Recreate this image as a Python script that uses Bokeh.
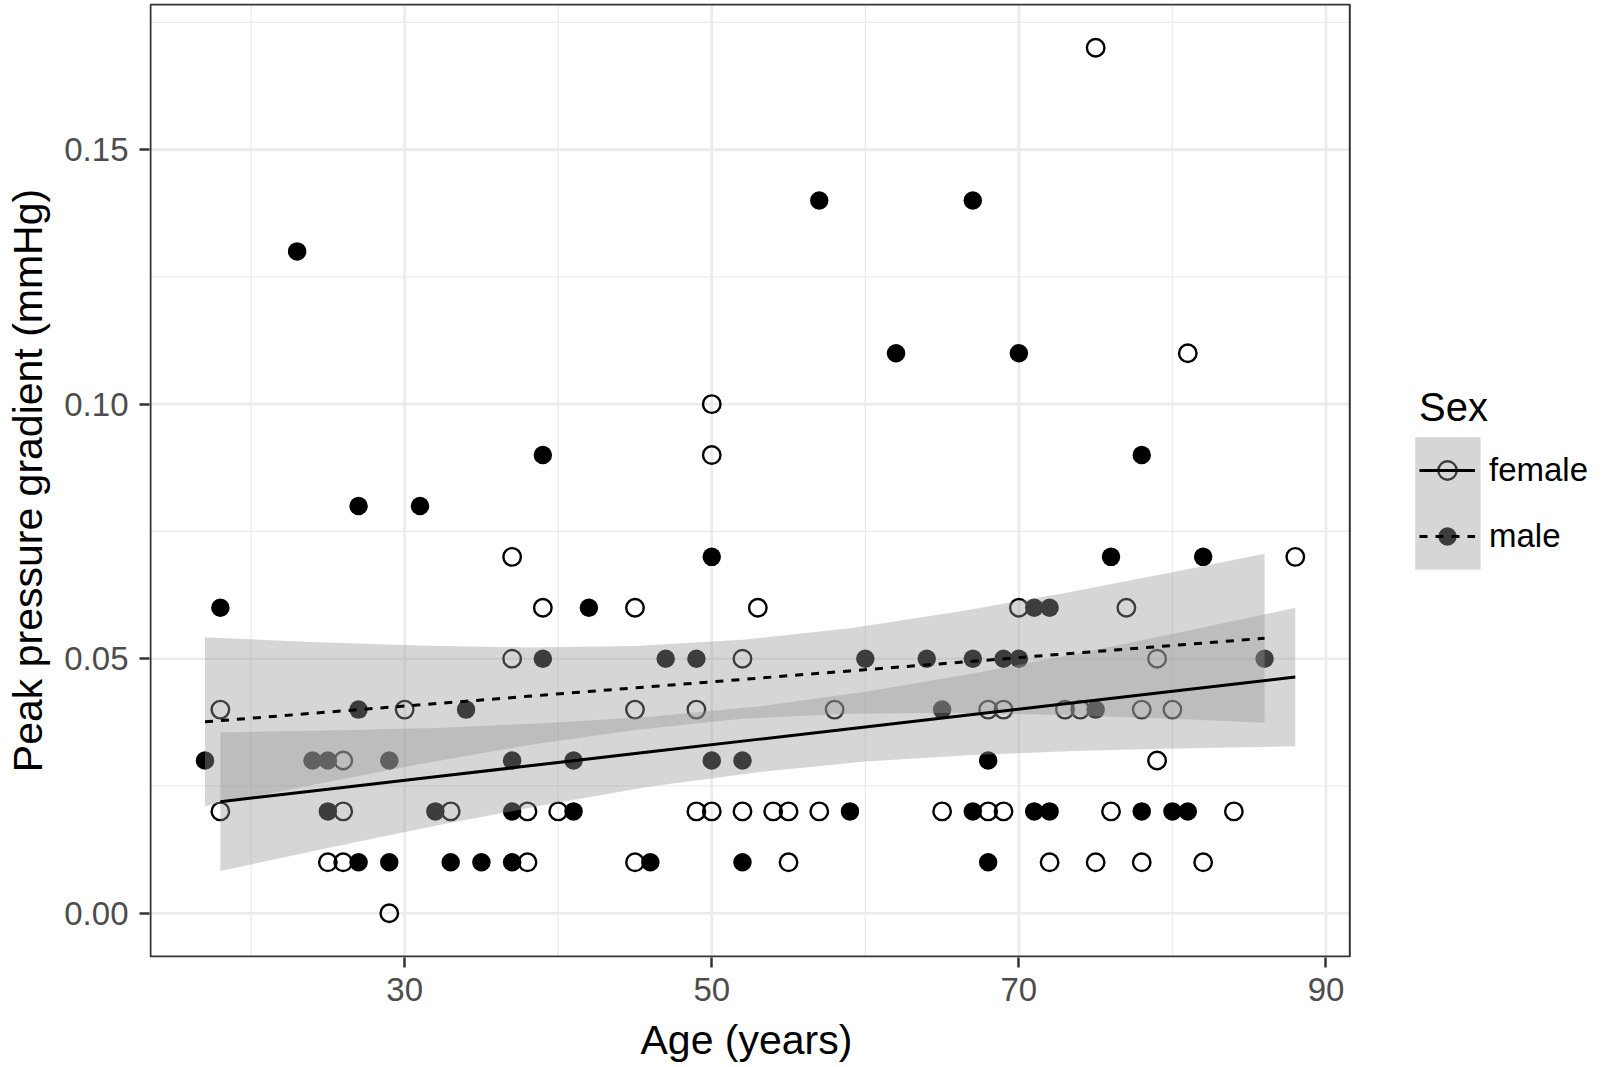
import numpy as np
from bokeh.plotting import figure
from bokeh.models import FixedTicker, NumeralTickFormatter, Legend, LegendItem, Range1d, Title
from bokeh.embed import file_html
from bokeh.resources import INLINE

# ---- data ----
female_age = [75, 81, 50, 50, 37, 88,
              39, 45, 53, 70, 77,
              37, 52, 79,
              18, 30, 45, 49, 58, 68, 69, 73, 74, 78, 80,
              26, 79,
              18, 26, 33, 38, 40, 49, 50, 52, 54, 55, 57, 65, 68, 69, 76, 84,
              25, 26, 38, 45, 55, 72, 75, 78, 82,
              29]
female_ppg = [0.17, 0.11, 0.10, 0.09, 0.07, 0.07,
              0.06, 0.06, 0.06, 0.06, 0.06,
              0.05, 0.05, 0.05,
              0.04, 0.04, 0.04, 0.04, 0.04, 0.04, 0.04, 0.04, 0.04, 0.04, 0.04,
              0.03, 0.03,
              0.02, 0.02, 0.02, 0.02, 0.02, 0.02, 0.02, 0.02, 0.02, 0.02, 0.02, 0.02, 0.02, 0.02, 0.02, 0.02,
              0.01, 0.01, 0.01, 0.01, 0.01, 0.01, 0.01, 0.01, 0.01,
              0.00]

male_age = [57, 67, 23, 62, 70, 39, 78, 27, 31, 50, 76, 82,
            18, 42, 71, 72,
            39, 47, 49, 60, 64, 67, 69, 70, 86,
            27, 34, 65, 75,
            17, 24, 25, 29, 37, 41, 50, 52, 68,
            25, 32, 37, 41, 59, 67, 71, 72, 78, 80, 81,
            27, 29, 33, 35, 37, 46, 52, 68]
male_ppg = [0.14, 0.14, 0.13, 0.11, 0.11, 0.09, 0.09, 0.08, 0.08, 0.07, 0.07, 0.07,
            0.06, 0.06, 0.06, 0.06,
            0.05, 0.05, 0.05, 0.05, 0.05, 0.05, 0.05, 0.05, 0.05,
            0.04, 0.04, 0.04, 0.04,
            0.03, 0.03, 0.03, 0.03, 0.03, 0.03, 0.03, 0.03, 0.03,
            0.02, 0.02, 0.02, 0.02, 0.02, 0.02, 0.02, 0.02, 0.02, 0.02, 0.02,
            0.01, 0.01, 0.01, 0.01, 0.01, 0.01, 0.01, 0.01]

# linear fits with 95% bands
female_fit_age = [18, 25, 32, 39, 46, 53, 60, 67, 74, 81, 88]
female_fit = [0.0219, 0.02435, 0.0268, 0.02925, 0.0317, 0.03415, 0.0366, 0.03905, 0.0415, 0.04395, 0.0464]
female_lo = [0.0083, 0.0128, 0.0172, 0.0212, 0.0249, 0.0277, 0.0298, 0.0311, 0.0319, 0.0324, 0.0328]
female_hi = [0.0355, 0.0359, 0.0364, 0.0373, 0.0386, 0.0406, 0.0435, 0.0471, 0.0511, 0.0555, 0.0600]

male_fit_age = [17, 24, 31, 38, 45, 52, 59, 66, 73, 80, 86]
male_fit = [0.0376, 0.03927, 0.04093, 0.0426, 0.04426, 0.04593, 0.0476, 0.04926, 0.05093, 0.0526, 0.05402]
male_lo = [0.0210, 0.0252, 0.0293, 0.0330, 0.0360, 0.0382, 0.0392, 0.0394, 0.0389, 0.0382, 0.0374]
male_hi = [0.0542, 0.0533, 0.0526, 0.0522, 0.0525, 0.0537, 0.0560, 0.0592, 0.0629, 0.0670, 0.0706]

x_major = [30, 50, 70, 90]
x_minor = [20, 40, 60, 80]
y_major = [0.0, 0.05, 0.10, 0.15]
y_minor = [0.025, 0.075, 0.125, 0.175]

# panel (ggplot-style expanded data range)
X_LO, X_HI = 13.45, 91.55
Y_LO, Y_HI = -0.0085, 0.1785

FONT = "Liberation Sans"

# layout: the frame reaches the right edge of the figure so the legend can sit in it
LEFT, TOP, FRAME_W, FRAME_H, BOTTOM = 149, 3, 1457, 954, 110
PANEL_W = 1199.3
PANEL_H = FRAME_H - 2
px_x = PANEL_W / (X_HI - X_LO)
px_y = PANEL_H / (Y_HI - Y_LO)
x_start = X_LO - 1 / px_x
y_start = Y_LO - 1 / px_y

def sx_to_x(sx):  # pixel offset from frame left -> data x
    return x_start + sx / px_x

def sy_to_y(sy):  # pixel offset from frame top -> data y
    return y_start + (FRAME_H - sy) / px_y

p = figure(frame_width=FRAME_W, frame_height=FRAME_H,
           min_border_left=LEFT, min_border_right=0, min_border_top=TOP, min_border_bottom=BOTTOM,
           x_range=Range1d(x_start, x_start + FRAME_W / px_x),
           y_range=Range1d(y_start, y_start + FRAME_H / px_y),
           output_backend="svg", toolbar_location=None,
           y_axis_label="Peak pressure gradient (mmHg)")

p.background_fill_color = "white"
p.border_fill_color = "white"
p.outline_line_color = None
p.xgrid.visible = False
p.ygrid.visible = False

p.xaxis.ticker = FixedTicker(ticks=x_major)
p.yaxis.ticker = FixedTicker(ticks=y_major)
p.yaxis.formatter = NumeralTickFormatter(format="0.00")

for ax in (p.xaxis, p.yaxis):
    ax.axis_line_color = None
    ax.major_tick_line_color = "#333333"
    ax.major_tick_line_width = 2.5
    ax.major_tick_out = 10
    ax.major_tick_in = 0
    ax.minor_tick_line_color = None
    ax.major_label_text_font = FONT
    ax.major_label_text_font_size = "33px"
    ax.major_label_text_color = "#4D4D4D"
    ax.axis_label_text_font = FONT
    ax.axis_label_text_font_size = "41px"
    ax.axis_label_text_font_style = "normal"
    ax.axis_label_text_color = "black"

p.yaxis.major_label_standoff = 11
p.yaxis.axis_label_standoff = 10
p.xaxis.major_label_standoff = 10
# a blank, tiny axis label only adds the gap between tick labels and the title below
p.xaxis.axis_label = " "
p.xaxis.axis_label_text_font_size = "1px"
p.xaxis.axis_label_standoff = 9

# x axis title, centred under the panel (not under the wider frame)
x_title = Title(text="Age (years)", align="left", offset=491, vertical_align="top", standoff=0,
                text_font=FONT, text_font_size="41px", text_font_style="normal", text_color="black")
p.add_layout(x_title, "below")

# grid lines inside the panel only
GRID = "#EBEBEB"
p.segment(x0=x_minor, x1=x_minor, y0=[Y_LO] * len(x_minor), y1=[Y_HI] * len(x_minor),
          line_color=GRID, line_width=1.3)
p.segment(x0=[X_LO] * len(y_minor), x1=[X_HI] * len(y_minor), y0=y_minor, y1=y_minor,
          line_color=GRID, line_width=1.3)
p.segment(x0=x_major, x1=x_major, y0=[Y_LO] * len(x_major), y1=[Y_HI] * len(x_major),
          line_color=GRID, line_width=2.6)
p.segment(x0=[X_LO] * len(y_major), x1=[X_HI] * len(y_major), y0=y_major, y1=y_major,
          line_color=GRID, line_width=2.6)

# points
p.scatter(female_age, female_ppg, marker="circle", size=17.5,
          fill_color=None, line_color="black", line_width=2.4)
p.scatter(male_age, male_ppg, marker="circle", size=18.5,
          fill_color="black", line_color=None)

# confidence bands
BAND = "#999999"
p.varea(x=male_fit_age, y1=male_lo, y2=male_hi, fill_color=BAND, fill_alpha=0.4)
p.varea(x=female_fit_age, y1=female_lo, y2=female_hi, fill_color=BAND, fill_alpha=0.4)

# fit lines
f_line = p.line(female_fit_age, female_fit, line_color="black", line_width=3)
m_line = p.line(male_fit_age, male_fit, line_color="black", line_width=3, line_dash="8 8")

# panel border
p.quad(left=[X_LO], right=[X_HI], bottom=[Y_LO], top=[Y_HI],
       fill_color=None, line_color="#333333", line_width=2)

# legend key background (grey band fill), pixel box relative to the frame
KEY_L, KEY_R, KEY_T, KEY_B = 1265.7, 1331.0, 433.7, 566.3
p.quad(left=[sx_to_x(KEY_L)], right=[sx_to_x(KEY_R)], top=[sy_to_y(KEY_T)], bottom=[sy_to_y(KEY_B)],
       fill_color=BAND, fill_alpha=0.4, line_color=None)

# legend-only marker renderers (a single missing value, so nothing is drawn in the panel)
nan = np.array([np.nan])
f_key = p.scatter(nan, nan, marker="circle", fill_color=None, line_color="#3A3A3A", line_width=2.4)
m_key = p.scatter(nan, nan, marker="circle", fill_color="#3D3D3D", line_color=None)

legend = Legend(items=[
    LegendItem(label="female", renderers=[f_key, f_line]),
    LegendItem(label="male", renderers=[m_key, m_line]),
])
legend.location = (1270, 398)
legend.title = "Sex"
legend.title_text_font = FONT
legend.title_text_font_size = "40px"
legend.title_text_font_style = "normal"
legend.title_text_color = "black"
legend.title_standoff = 17
legend.label_text_font = FONT
legend.label_text_font_size = "33px"
legend.label_text_color = "black"
legend.glyph_width = 56
legend.glyph_height = 46
legend.label_height = 46
legend.label_standoff = 14
legend.spacing = 20
legend.padding = 0
legend.margin = 0
legend.border_line_color = None
legend.background_fill_alpha = 0
p.add_layout(legend, "center")

open("out.html", "w").write(file_html(p, INLINE))
